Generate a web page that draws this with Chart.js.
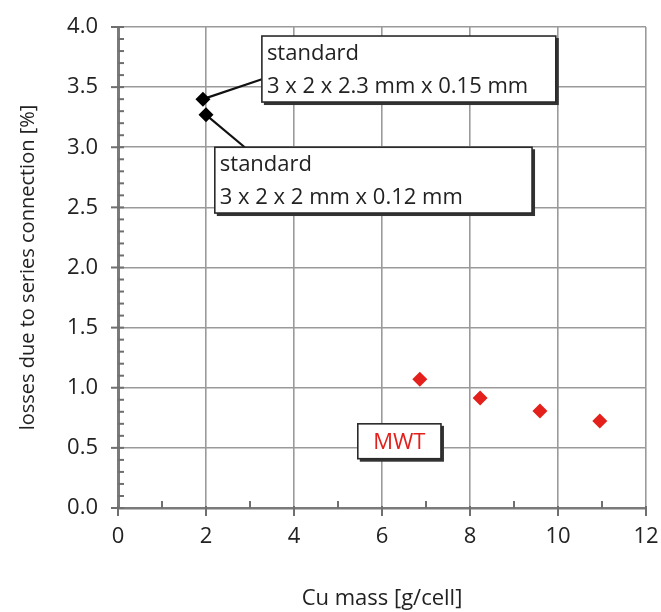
<!DOCTYPE html>
<html>
<head>
<meta charset="utf-8">
<script src="https://cdn.jsdelivr.net/npm/chart.js@4.4.1/dist/chart.umd.min.js"></script>
<style>
  html, body { margin: 0; padding: 0; background: #ffffff; }
  #wrap { width: 661px; height: 612px; }
</style>
</head>
<body>
<div id="wrap"><canvas id="c" width="661" height="612"></canvas></div>
<script>
// ---- data ----
const standardX = [1.93, 2.0];
const standardY = [3.40, 3.27];
const mwtX = [6.86, 8.23, 9.59, 10.95];
const mwtY = [1.07, 0.915, 0.807, 0.723];
const xTickValues = [0, 2, 4, 6, 8, 10, 12];
const yTickValues = [0.0, 0.5, 1.0, 1.5, 2.0, 2.5, 3.0, 3.5, 4.0];
const xTitle = 'Cu mass [g/cell]';
const yTitle = 'losses due to series connection [%]';
const label1Lines = ['standard', '3 x 2 x 2.3 mm x 0.15 mm'];
const label2Lines = ['standard', '3 x 2 x 2 mm x 0.12 mm'];
const mwtLabel = 'MWT';

// ---- annotation layout (data-space positions) ----
const FONT = '"Open Sans", "Noto Sans", sans-serif';
const TEXT = '#222222';
const annotations = [
  { x0: 3.27, y0: 3.925, x1: 9.95, y1: 3.376, lines: label1Lines, color: TEXT,
    leader: { from: [3.27, 3.565], point: 0 } },
  { x0: 2.2, y0: 3.0, x1: 9.41, y1: 2.453, lines: label2Lines, color: TEXT,
    leader: { from: [2.88, 3.0], point: 1 } },
  { x0: 5.45, y0: 0.70, x1: 7.34, y1: 0.41, lines: [mwtLabel], color: '#e3201b', center: true }
];

const toPts = (xs, ys) => xs.map((x, i) => ({ x: x, y: ys[i] }));

const annotationPlugin = {
  id: 'callouts',
  beforeDatasetsDraw(chart) {
    const ctx = chart.ctx, xs = chart.scales.x, ys = chart.scales.y;
    ctx.save();
    ctx.strokeStyle = '#111';
    ctx.lineWidth = 2.2;
    annotations.forEach(a => {
      if (!a.leader) return;
      const p = { x: standardX[a.leader.point], y: standardY[a.leader.point] };
      ctx.beginPath();
      ctx.moveTo(xs.getPixelForValue(a.leader.from[0]), ys.getPixelForValue(a.leader.from[1]));
      ctx.lineTo(xs.getPixelForValue(p.x), ys.getPixelForValue(p.y));
      ctx.stroke();
    });
    ctx.restore();
  },
  afterDatasetsDraw(chart) {
    const ctx = chart.ctx, xs = chart.scales.x, ys = chart.scales.y;
    ctx.save();
    annotations.forEach(a => {
      const l = xs.getPixelForValue(a.x0), r = xs.getPixelForValue(a.x1);
      const t = ys.getPixelForValue(a.y0), b = ys.getPixelForValue(a.y1);
      const w = r - l, h = b - t;
      // shadow
      ctx.fillStyle = '#333';
      ctx.fillRect(l + 2, t + 2, w + 1, h + 1);
      ctx.fillStyle = '#fff';
      ctx.fillRect(l, t, w, h);
      ctx.strokeStyle = '#2a2a2a';
      ctx.lineWidth = 1.6;
      ctx.strokeRect(l, t, w, h);
      ctx.fillStyle = a.color;
      ctx.font = '22px ' + FONT;
      ctx.textBaseline = 'middle';
      if (a.center) {
        ctx.textAlign = 'center';
        ctx.fillText(a.lines[0], l + w / 2, t + h / 2 + 1);
      } else {
        ctx.textAlign = 'left';
        const n = a.lines.length;
        const step = h / n;
        a.lines.forEach((s, i) => ctx.fillText(s, l + 5, t + step * (i + 0.5) + 1));
      }
    });
    ctx.restore();
  }
};

const tickPlugin = {
  id: 'axisTicks',
  afterDraw(chart) {
    const ctx = chart.ctx, xs = chart.scales.x, ys = chart.scales.y;
    const ax = xs.left, ay = ys.bottom;
    ctx.save();
    ctx.strokeStyle = '#6f6f6f';
    ctx.lineWidth = 2;
    for (let k = 0; k <= 40; k++) {
      const v = k / 10;
      const py = ys.getPixelForValue(v);
      ctx.beginPath();
      if (k % 5 === 0) { ctx.moveTo(ax - 7, py); ctx.lineTo(ax + 6, py); }
      else { ctx.moveTo(ax, py); ctx.lineTo(ax + 6, py); }
      ctx.stroke();
    }
    for (let v = 0; v <= 12; v++) {
      const px = xs.getPixelForValue(v);
      ctx.beginPath();
      if (v % 2 === 0) { ctx.moveTo(px, ay - 2); ctx.lineTo(px, ay + 8); }
      else { ctx.moveTo(px, ay); ctx.lineTo(px, ay - 7); }
      ctx.stroke();
    }
    ctx.restore();
  }
};

new Chart(document.getElementById('c'), {
  type: 'scatter',
  data: {
    datasets: [
      { label: 'standard', data: toPts(standardX, standardY), pointStyle: 'rectRot',
        pointRadius: 7.5, pointHoverRadius: 7.5, backgroundColor: '#000', borderColor: '#000', borderWidth: 0 },
      { label: 'MWT', data: toPts(mwtX, mwtY), pointStyle: 'rectRot',
        pointRadius: 7.5, pointHoverRadius: 7.5, backgroundColor: '#e3201b', borderColor: '#e3201b', borderWidth: 0 }
    ]
  },
  options: {
    responsive: false,
    animation: false,
    devicePixelRatio: 1,
    layout: { padding: { left: 0, right: 15, top: 27, bottom: 0 } },
    plugins: { legend: { display: false }, tooltip: { enabled: false } },
    scales: {
      x: {
        type: 'linear', min: 0, max: 12,
        afterBuildTicks: s => { s.ticks = xTickValues.map(v => ({ value: v })); },
        afterFit: s => { s.height = 104; s.paddingLeft = 0; s.paddingRight = 0; },
        grid: { color: '#9a9a9a', lineWidth: 1.6, drawTicks: false },
        border: { color: '#7a7a7a', width: 2.5 },
        ticks: { padding: 16, color: TEXT, font: { family: FONT, size: 22 }, maxRotation: 0 },
        title: { display: true, text: xTitle, color: TEXT, font: { family: FONT, size: 22 }, padding: { top: 4, bottom: 0 } }
      },
      y: {
        type: 'linear', min: 0, max: 4,
        afterBuildTicks: s => { s.ticks = yTickValues.map(v => ({ value: v })); },
        afterFit: s => { s.width = 118; s.paddingTop = 0; s.paddingBottom = 0; },
        grid: { color: '#9a9a9a', lineWidth: 1.6, drawTicks: false },
        border: { color: '#7a7a7a', width: 3 },
        ticks: { padding: 20, color: TEXT, font: { family: FONT, size: 22 }, callback: v => Number(v).toFixed(1) },
        title: { display: true, text: yTitle, color: TEXT, font: { family: FONT, size: 20 }, padding: { top: 16, bottom: 4 } }
      }
    }
  },
  plugins: [annotationPlugin, tickPlugin]
});
</script>
</body>
</html>
